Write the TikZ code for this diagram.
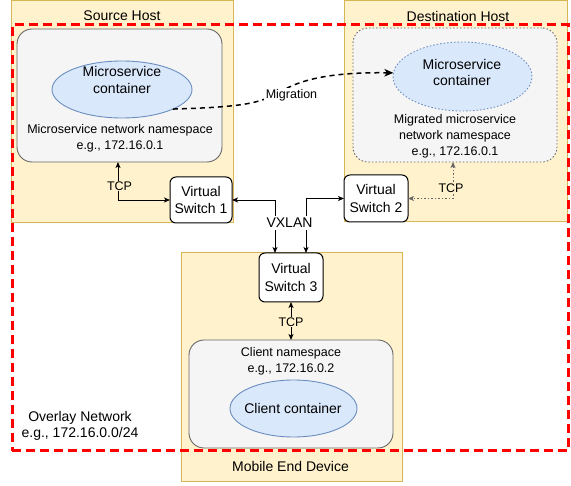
\documentclass[tikz,border=0pt]{standalone}
\usepackage{fontspec}
\setmainfont{Liberation Sans}
\usetikzlibrary{arrows.meta,shapes.geometric}
\definecolor{hostfill}{HTML}{FFF2CC}
\definecolor{hostdraw}{HTML}{D6B656}
\definecolor{nsfill}{HTML}{F5F5F5}
\definecolor{nsdraw}{HTML}{666666}
\definecolor{ctfill}{HTML}{DAE8FC}
\definecolor{ctdraw}{HTML}{6C8EBF}
\definecolor{ovred}{HTML}{FF0000}
\begin{document}
\begin{tikzpicture}[x=1pt,y=-1pt,
  big/.style={font=\fontsize{14}{16.5}\selectfont, align=center, inner sep=0pt},
  small/.style={font=\fontsize{12.5}{16}\selectfont, align=center, inner sep=0pt},
  box/.style={rectangle, inner sep=0pt, outer sep=0pt},
  hostbox/.style={box, draw=hostdraw, fill=hostfill, line width=1pt},
  nsbox/.style={box, draw=nsdraw, fill=nsfill, rounded corners=15pt, line width=0.9pt},
  ctell/.style={ellipse, draw=ctdraw, fill=ctfill, line width=0.9pt, inner sep=0pt, outer sep=0pt},
  switchbox/.style={box, draw=black, fill=white, rounded corners=6pt, line width=1pt,
    font=\fontsize{14}{17.5}\selectfont, align=center},
  dblarrow/.style={line width=0.9pt,
    {Stealth[length=6pt,width=5pt,inset=1.5pt]}-{Stealth[length=6pt,width=5pt,inset=1.5pt]}},
  dotline/.style={dash pattern=on 1.5pt off 2pt},
  tcplabel/.style={small, fill=hostfill, inner sep=1pt}
]
\useasboundingbox (0,0) rectangle (571,486);

% host boxes
\node[hostbox, minimum width=222pt, minimum height=222pt] (srchost) at (122,112) {};
\node[hostbox, minimum width=223pt, minimum height=221pt] (dsthost) at (455.5,111.5) {};
\node[hostbox, minimum width=221pt, minimum height=229pt] (mobile) at (291.5,367.5) {};

% overlay network
\node[box, draw=ovred, line width=3pt, dash pattern=on 9pt off 5pt,
      minimum width=556pt, minimum height=426pt] (overlay) at (290,238) {};

% titles
\node[big] (srctitle) at (122,16) {Source Host};
\node[big] (dsttitle) at (458,16) {Destination Host};
\node[big] (mobtitle) at (290.5,466) {Mobile End Device};

% namespaces
\node[nsbox, minimum width=205pt, minimum height=133pt] (srcns) at (119.5,95.5) {};
\node[nsbox, dotline, minimum width=204pt, minimum height=134pt] (dstns) at (455,95) {};
\node[nsbox, minimum width=204pt, minimum height=108pt] (clientns) at (291,394) {};

% containers
\node[ctell, minimum width=140pt, minimum height=57pt] (srcell) at (122,89.5) {};
\node[ctell, dotline, minimum width=139pt, minimum height=69pt] (dstell) at (462.5,76.5) {};
\node[ctell, minimum width=127pt, minimum height=57pt] (clientell) at (293.5,408.5) {};

\node[big] (srcelltext) at (122,80) {Microservice\\container};
\node[big] (dstelltext) at (462,72.5) {Microservice\\container};
\node[big] (clientelltext) at (293,408.5) {Client container};

\node[small] (srcnstext) at (120,138) {Microservice network namespace\\e.g., 172.16.0.1};
\node[small] (dstnstext) at (455,136) {Migrated microservice\\network namespace\\e.g., 172.16.0.1};
\node[small] (clientnstext) at (291,361) {Client namespace\\e.g., 172.16.0.2};

\node[big] (overlaytext) at (80,426) {Overlay Network\\e.g., 172.16.0.0/24};

% switches
\node[switchbox, minimum width=62pt, minimum height=46pt] (sw1) at (201,200) {Virtual\\Switch 1};
\node[switchbox, minimum width=64pt, minimum height=47pt] (sw2) at (376,198.5) {Virtual\\Switch 2};
\node[switchbox, minimum width=64pt, minimum height=49pt] (sw3) at (291,277.5) {Virtual\\Switch 3};

% TCP connectors
\draw[dblarrow] ([xshift=-1.5pt]srcns.south) |- (sw1.west);
\node[tcplabel] (tcp1) at (119.5,186) {TCP};
\draw[dblarrow, dotline, draw=nsdraw] ([xshift=-2pt]dstns.south) |- (sw2.east);
\node[tcplabel] (tcp2) at (451,188) {TCP};
\draw[dblarrow] (sw3.south) -- (clientns.north);
\node[tcplabel] (tcp3) at (291,322) {TCP};

% VXLAN connectors
\draw[dblarrow] (sw1.east) -| ([xshift=-16pt]sw3.north);
\draw[dblarrow] (sw2.west) -| ([xshift=15pt]sw3.north);
\node[big, fill=white, inner sep=2pt] (vxlan) at (289.5,223) {VXLAN};

% migration
\draw[line width=1.5pt, dash pattern=on 5pt off 4pt,
      -{Stealth[length=9pt,width=7.5pt,inset=2.5pt]}]
  (srcell.-21) .. controls (250,107) and (262,102) .. (282,91)
  .. controls (300,80) and (330,72) .. (dstell.177);
\node[small, fill=white, inner sep=1.5pt] (miglabel) at (291.5,95) {Migration};
\end{tikzpicture}
\end{document}
